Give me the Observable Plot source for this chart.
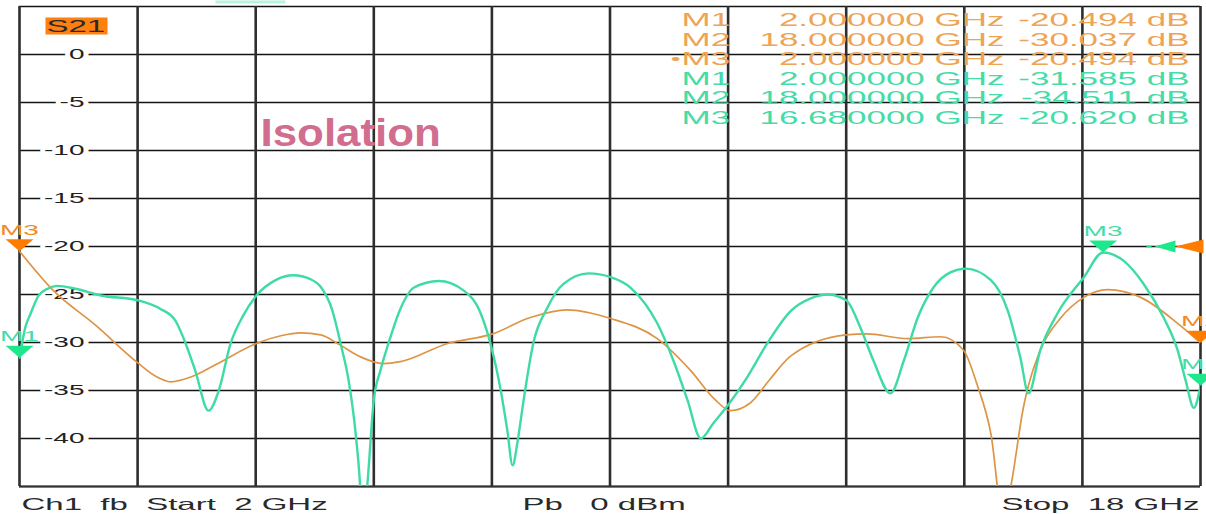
<!DOCTYPE html>
<html><head><meta charset="utf-8">
<script src="https://cdn.jsdelivr.net/npm/d3@7"></script>
<script src="https://cdn.jsdelivr.net/npm/@observablehq/plot@0.6"></script>
<style>
html,body{margin:0;padding:0;background:#fff;}
svg text{white-space:pre;}
</style>
</head><body><div id="chart"></div>
<script>
// ---------- data ----------
const traceName = "S21";
const title = "Isolation";
const xDomain = [2, 18];           // GHz
const yDomain = [-45, 5];          // dB
const xTicks = [2, 3.6, 5.2, 6.8, 8.4, 10, 11.6, 13.2, 14.8, 16.4, 18];
const yTicks = [5, 0, -5, -10, -15, -20, -25, -30, -35, -40, -45];
const yLabelValues = [0, -5, -10, -15, -20, -25, -30, -35, -40];
const yLabelTexts = ["0", "-5", "-10", "-15", "-20", "-25", "-30", "-35", "-40"];
const refLevel = -20;

// trace 1 (orange)
const freqA = [2.00, 2.46, 3.03, 3.60, 3.84, 4.05, 4.32, 4.66, 5.21, 5.54, 5.81, 6.08, 6.35, 6.62, 6.93, 7.16, 7.80, 8.41, 8.92, 9.42, 10.01, 10.64, 11.09, 11.43, 11.63, 11.90, 12.17, 12.45, 13.20, 13.48, 14.03, 14.48, 14.79, 14.97, 15.16, 15.33, 15.43, 15.60, 15.83, 16.10, 16.42, 16.74, 17.19, 17.69, 18.00];
const dbA   = [-20.49, -24.6, -28.2, -32.1, -33.5, -34.1, -33.6, -32.3, -30.1, -29.3, -29.0, -29.2, -30.3, -31.5, -32.2, -32.0, -30.1, -29.1, -27.4, -26.6, -27.5, -29.6, -32.9, -36.0, -37.1, -36.3, -33.8, -31.4, -29.2, -29.1, -29.6, -29.4, -30.8, -34.3, -39.5, -48.5, -45.0, -36.8, -30.8, -27.5, -25.3, -24.5, -25.3, -28.0, -30.04];

// trace 2 (green)
const freqB = [2.00, 2.08, 2.15, 2.26, 2.38, 2.51, 2.76, 3.10, 3.60, 3.91, 4.11, 4.22, 4.38, 4.56, 4.70, 4.86, 5.03, 5.21, 5.47, 5.71, 5.94, 6.08, 6.24, 6.35, 6.46, 6.53, 6.59, 6.66, 6.71, 6.80, 6.89, 6.99, 7.16, 7.34, 7.68, 8.02, 8.25, 8.38, 8.52, 8.61, 8.68, 8.75, 8.83, 8.96, 9.15, 9.37, 9.71, 10.01, 10.28, 10.64, 10.86, 11.05, 11.23, 11.40, 11.61, 11.86, 12.13, 12.45, 12.72, 12.95, 13.20, 13.39, 13.57, 13.80, 13.98, 14.17, 14.38, 14.61, 14.82, 15.16, 15.39, 15.56, 15.67, 15.83, 16.06, 16.42, 16.68, 16.96, 17.23, 17.50, 17.69, 17.80, 17.91, 18.00];
const dbB   = [-31.59, -28.4, -27.0, -25.1, -24.4, -24.1, -24.4, -25.1, -25.6, -26.5, -27.7, -29.5, -32.9, -37.1, -35.0, -30.1, -27.2, -25.1, -23.5, -23.0, -23.4, -24.2, -26.7, -30.1, -34.0, -37.8, -42.3, -48.5, -45.0, -36.0, -32.9, -30.3, -26.5, -24.3, -23.6, -24.6, -27.0, -30.1, -35.0, -39.2, -42.8, -40.2, -36.0, -30.1, -26.4, -23.9, -22.8, -23.2, -24.3, -28.0, -31.9, -36.0, -40.0, -38.4, -36.4, -33.6, -30.1, -26.7, -25.4, -25.0, -25.6, -28.4, -31.9, -35.3, -31.9, -27.4, -24.3, -22.7, -22.3, -23.5, -26.7, -31.6, -35.3, -30.8, -27.0, -23.2, -20.62, -21.5, -23.9, -27.4, -30.8, -34.0, -36.8, -34.51];

// markers
const markerNames = ["M1", "M2", "M3"];
const markerFreqA = [2.0, 18.0, 2.0];
const markerDbA   = [-20.494, -30.037, -20.494];
const markerFreqB = [2.0, 18.0, 16.68];
const markerDbB   = [-31.585, -34.511, -20.620];
const activeMarkerA = "M3";

const footerTexts = ["Ch1  fb  Start  2 GHz", "Pb   0 dBm", "Stop  18 GHz"];

// ---------- styles ----------
const orangeTrace = "#de9445", greenTrace = "#3edba2";
const orangeMark = "#ff7c00", greenMark = "#1ee88c";
const orangeText = "#eea455", greenText = "#45dca8";
const STRETCH = 2;

// ---------- build ----------
const traceA = freqA.map((f, i) => ({f, db: dbA[i]}));
const traceB = freqB.map((f, i) => ({f, db: dbB[i]}));
const mkA = markerNames.map((n, i) => ({name: n, f: markerFreqA[i], db: markerDbA[i]}));
const mkB = markerNames.map((n, i) => ({name: n, f: markerFreqB[i], db: markerDbB[i]}));
// a marker lying under a later marker at the same frequency is hidden
const visible = arr => arr.filter((m, i) => !arr.slice(i + 1).some(o => o.f === m.f));
const visA = visible(mkA), visB = visible(mkB);

const downTri = {draw(ctx) { ctx.moveTo(0, 0); ctx.lineTo(-14, -12); ctx.lineTo(14, -12); ctx.closePath(); }};
const refOrange = {draw(ctx) { ctx.moveTo(-25, 0); ctx.lineTo(3, -7); ctx.lineTo(3, 7); ctx.closePath(); }};
const refGreen = {draw(ctx) { ctx.moveTo(-46, 0); ctx.lineTo(-25, -6); ctx.lineTo(-25, 6); ctx.closePath();
  ctx.moveTo(-54, -1); ctx.lineTo(-49, -1); ctx.lineTo(-49, 1); ctx.lineTo(-54, 1); ctx.closePath(); }};
const tabRect = {draw(ctx) { ctx.rect(26, 11, 62, 17); }};
const topStrip = {draw(ctx) { ctx.rect(196, -6, 70, 3); }};
const corner = [0];

const rows = [
  ...mkA.map(m => ({...m, color: orangeText})),
  ...mkB.map(m => ({...m, color: greenText}))
];
const tableMarks = rows.flatMap((r, i) => {
  const dy = 14 + 19.5 * i;
  const common = {frameAnchor: "top-left", dy, lineAnchor: "middle", fontSize: 17.5, fill: r.color};
  return [
    Plot.text([r.name], {...common, dx: 662, textAnchor: "start"}),
    Plot.text([r.f.toFixed(6) + " GHz"], {...common, dx: 985, textAnchor: "end"}),
    Plot.text([r.db.toFixed(3) + " dB"], {...common, dx: 1170, textAnchor: "end"})
  ];
});
const activeRow = rows.findIndex(r => r.color === orangeText && r.name === activeMarkerA);

const chart = Plot.plot({
  width: 1206, height: 514,
  marginLeft: 19, marginRight: 6, marginTop: 6, marginBottom: 28,
  x: {domain: xDomain, axis: null},
  y: {domain: yDomain, axis: null},
  style: {fontFamily: "'Liberation Sans', Arial, sans-serif", background: "white", overflow: "visible"},
  marks: [
    Plot.dot(corner, {x: () => xDomain[0], y: () => yDomain[1], symbol: topStrip, fill: "#b6f3e3", stroke: null}),
    Plot.ruleY(yTicks, {stroke: "#141414", strokeWidth: 1.4}),
    Plot.ruleY([yDomain[0]], {stroke: "#333", strokeWidth: 2.2}),
    Plot.ruleX(xTicks, {stroke: "#2e2e2e", strokeWidth: 2.6}),
    Plot.text(yLabelValues, {y: d => d, text: (d, i) => yLabelTexts[i], frameAnchor: "left", dx: 65,
      textAnchor: "end", lineAnchor: "middle", fontSize: 14, fill: "#222", stroke: "white", strokeWidth: 5, paintOrder: "stroke"}),
    Plot.dot(corner, {x: () => xDomain[0], y: () => yDomain[1], symbol: tabRect, fill: "#ff7f0f", stroke: null}),
    Plot.text([traceName], {frameAnchor: "top-left", dx: 27, dy: 20, lineAnchor: "middle", textAnchor: "start", fontSize: 16.5, fill: "#2a2a2a"}),
    Plot.text([title], {frameAnchor: "top-left", dx: 241, dy: 126.7, lineAnchor: "middle", textAnchor: "start",
      fontSize: 38.5, fontWeight: "bold", fill: "#d16d8e"}),
    ...tableMarks,
    Plot.text(["•"], {frameAnchor: "top-left", dx: 661, dy: 14 + 19.5 * activeRow, lineAnchor: "middle", textAnchor: "end", fontSize: 14, fill: orangeText}),
    Plot.line(traceA, {x: "f", y: "db", stroke: orangeTrace, strokeWidth: 1.7, curve: "monotone-x", clip: true}),
    Plot.line(traceB, {x: "f", y: "db", stroke: greenTrace, strokeWidth: 2.4, curve: "monotone-x", clip: true}),
    Plot.dot(corner, {x: () => xDomain[1], y: () => refLevel, symbol: refGreen, fill: greenMark, stroke: null}),
    Plot.dot(corner, {x: () => xDomain[1], y: () => refLevel, symbol: refOrange, fill: orangeMark, stroke: null}),
    Plot.dot(visA, {x: "f", y: "db", symbol: downTri, fill: orangeMark, stroke: null}),
    Plot.text(visA, {x: "f", y: "db", text: "name", dy: -21, lineAnchor: "middle", fontSize: 14, fill: "#f08a20"}),
    Plot.dot(visB, {x: "f", y: "db", symbol: downTri, fill: greenMark, stroke: null}),
    Plot.text(visB, {x: "f", y: "db", text: "name", dy: -21, lineAnchor: "middle", fontSize: 14, fill: greenText}),
    Plot.text([footerTexts[0]], {frameAnchor: "bottom-left", dx: 2, dy: 18, textAnchor: "start", lineAnchor: "middle", fontSize: 16.5, fill: "#2a2a2a"}),
    Plot.text([footerTexts[1]], {frameAnchor: "bottom-left", dx: 503, dy: 18, textAnchor: "start", lineAnchor: "middle", fontSize: 16.5, fill: "#2a2a2a"}),
    Plot.text([footerTexts[2]], {frameAnchor: "bottom-right", dx: -1, dy: 18, textAnchor: "end", lineAnchor: "middle", fontSize: 16.5, fill: "#2a2a2a"})
  ]
});

// the instrument screenshot is stretched horizontally: widen its glyphs about each text's anchor
chart.querySelectorAll("text").forEach(t => {
  const s = t.textContent === title ? 1.14 : STRETCH;
  const tr = t.getAttribute("transform") || "";
  t.setAttribute("transform", `${tr} scale(${s},1)`);
});
document.getElementById("chart").appendChild(chart);
</script>
</body></html>
